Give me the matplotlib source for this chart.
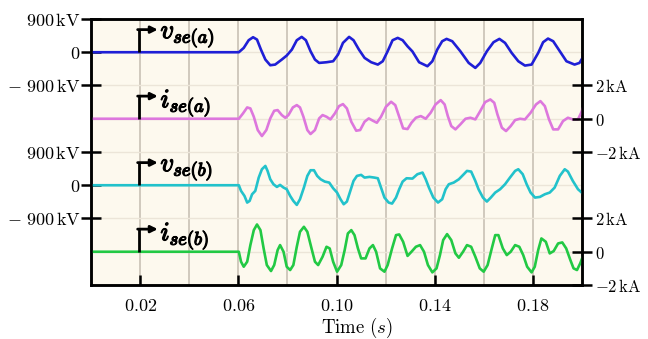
import numpy as np
import matplotlib.pyplot as plt
import matplotlib.patheffects as pe

plt.rcParams['mathtext.fontset'] = 'cm'

# time in ms, voltages in kV, currents in kA
t_va = [0, 60.2, 62.2, 64.2, 66.0, 67.6, 69.2, 71.0, 73.0, 75.0, 77.7, 79.7, 81.8, 83.8, 85.8,
        87.5, 89.4, 91.2, 92.9, 95.9, 98.6, 100.6, 102.6, 105.1, 106.9, 109.1, 111.4, 114.1,
        116.8, 118.8, 120.8, 122.8, 124.9, 126.9, 128.9, 130.9, 133.6, 137.0, 139.0, 141.0,
        143.0, 144.8, 147.1, 150.4, 153.8, 156.5, 158.5, 161.2, 163.9, 166.3, 168.6, 171.3,
        174.0, 176.7, 179.4, 182.1, 184.1, 186.1, 188.2, 190.9, 193.6, 196.9, 198.9, 201.0]
va = [0, 0, 117, 325, 406, 343, 72, -198, -352, -334, -198, -90, 72, 325, 415,
      325, 27, -198, -289, -271, -244, -63, 253, 415, 325, 72, -153, -271,
      -334, -244, 27, 325, 388, 325, 160, 20, -271, -379, -244, 72,
      298, 361, 298, 27, -289, -424, -289, 27, 271, 361, 253, -18,
      -244, -361, -334, -18, 271, 370, 298, 27, -244, -334, -289, -60]

t_ia = [0, 60.2, 61.9, 63.6, 64.9, 66.3, 67.9, 69.6, 71.4, 73.0, 74.6, 76.0, 77.7, 79.1, 80.4,
        82.2, 83.8, 85.1, 86.5, 88.1, 89.4, 91.2, 92.9, 94.3, 95.9, 97.5, 99.3, 101.0, 102.6,
        104.2, 106.0, 108.0, 109.6, 111.4, 113.1, 114.8, 116.4, 118.1, 120.1, 122.2, 123.9,
        125.5, 127.1, 128.9, 130.5, 132.3, 134.3, 136.3, 138.3, 140.3, 142.4, 144.0, 145.3,
        146.7, 148.4, 150.4, 152.5, 154.5, 156.5, 158.5, 160.5, 162.6, 164.2, 165.5, 167.3,
        169.0, 170.9, 172.7, 174.7, 176.7, 179.0, 181.2, 183.0, 184.8, 186.5, 188.2, 190.2,
        192.2, 194.2, 196.2, 198.3, 199.6, 201.0]
ia = [0, 0, 0.32, 0.68, 0.62, 0.12, -0.68, -1.04, -0.68, 0.02, 0.48, 0.52, 0.22, 0.06, 0.22,
      0.68, 0.82, 0.68, 0.12, -0.68, -0.92, -0.68, 0.02, 0.22, 0.12, -0.04, 0.32, 0.76, 0.88,
      0.62, -0.18, -0.72, -0.68, -0.18, 0.02, -0.12, -0.24, 0.12, 0.72, 1.02, 0.82,
      0.12, -0.58, -0.62, -0.24, 0.06, 0.16, 0.0, 0.36, 0.86, 1.12, 0.86, 0.16,
      -0.44, -0.64, -0.34, 0.0, 0.06, -0.04, 0.46, 1.0, 1.16, 0.96, 0.26, -0.54,
      -0.74, -0.44, -0.08, 0.0, -0.04, 0.36, 0.86, 1.06, 0.76, -0.04, -0.64, -0.64,
      -0.14, 0.06, -0.04, -0.04, 0.36, 0.92]

t_vb = [0, 60.2, 61.1, 62.5, 63.6, 64.6, 65.6, 66.9, 68.3, 69.6, 71.0, 71.9, 73.0, 74.3, 75.7,
        77.0, 78.4, 79.7, 81.1, 82.4, 83.8, 85.1, 86.7, 88.1, 89.4, 90.8, 92.1, 93.5, 95.2,
        97.0, 98.6, 100.2, 101.6, 102.9, 104.2, 105.6, 106.9, 108.3, 110.0, 111.4, 113.4,
        115.4, 116.8, 118.1, 119.5, 121.2, 122.6, 124.2, 125.5, 126.9, 128.5, 130.9, 132.9,
        135.0, 136.3, 137.6, 139.4, 141.3, 143.0, 144.4, 145.7, 147.7, 149.8, 151.8, 153.1,
        154.8, 156.5, 157.8, 159.6, 161.2, 162.8, 164.6, 166.6, 168.6, 170.6, 172.7, 174.0,
        175.8, 177.4, 179.0, 180.8, 182.8, 184.8, 186.8, 188.8, 190.9, 192.9, 194.2, 196.2,
        198.3, 200.3]
vb = [0, 0, -153, -289, -469, -424, -244, -153, 207, 433, 523, 388, 162, 27, -45,
      9, -63, -108, -289, -424, -532, -379, -63, 253, 406, 406, 253, 162, 99,
      72, -81, -198, -379, -514, -442, -153, 117, 253, 280, 207, 226,
      207, 189, -63, -334, -469, -496, -334, -108, 99, 189, 180, 298,
      343, 162, -63, -334, -469, -379, -108, 27, 72, 162, 298, 388,
      370, 117, -108, -334, -442, -334, -198, -108, 27, 207, 388, 433,
      298, 27, -198, -334, -316, -244, -198, -63, 253, 433, 370, 117,
      -108, -226]

t_ib = [0, 60.2, 61.1, 62.2, 63.6, 64.9, 66.3, 67.6, 69.0, 70.3, 71.6, 73.3, 74.6, 76.0, 77.0,
        78.4, 79.7, 81.1, 82.4, 83.8, 85.1, 86.7, 88.1, 89.8, 91.2, 92.5, 94.3, 95.9, 97.2,
        98.6, 100.2, 101.9, 103.3, 104.6, 106.0, 107.3, 108.7, 110.0, 111.8, 113.4, 114.8,
        116.1, 117.7, 119.5, 120.8, 122.6, 124.2, 125.5, 127.1, 128.9, 130.5, 132.3, 134.0,
        135.6, 137.2, 139.0, 140.7, 142.1, 143.4, 145.0, 146.7, 148.4, 149.8, 151.5, 153.1,
        154.8, 156.5, 158.3, 159.9, 161.5, 163.2, 164.6, 165.9, 167.7, 169.3, 170.9, 172.7,
        174.4, 176.0, 177.6, 179.4, 180.7, 182.1, 183.4, 185.2, 186.8, 188.4, 190.2, 191.9,
        193.5, 195.2, 196.5, 197.9, 199.2, 200.5]
ib = [0, 0, -0.60, -0.90, -0.60, 0.40, 1.30, 1.64, 1.30, 0.20, -0.80, -1.16, -0.80, 0.10, 0.40,
      0.0, -0.90, -1.10, -0.80, 0.30, 1.20, 1.50, 1.20, 0.20, -0.60, -0.80, -0.30, 0.30, 0.20,
      -0.60, -1.20, -0.80, 0.10, 1.10, 1.30, 1.00, 0.20, -0.40, -0.40, 0.20, 0.40,
      0.0, -1.00, -1.20, -0.80, 0.20, 1.00, 1.04, 0.60, -0.25, 0.0, 0.30, 0.40,
      0.0, -0.80, -1.24, -1.00, -0.20, 0.70, 1.06, 0.70, -0.10, -0.36, 0.0, 0.40,
      0.30, -0.30, -1.00, -1.20, -0.80, 0.20, 1.00, 1.00, 0.20, -0.20, 0.0, 0.40,
      0.30, -0.20, -0.90, -1.24, -0.90, 0.10, 0.80, 0.60, -0.10, 0.04, 0.50, 0.56,
      0.20, -0.50, -1.00, -1.10, -0.70, -0.20]

x_ticks = [0.02, 0.06, 0.10, 0.14, 0.18]
x_ticklabels = ['0.02', '0.06', '0.10', '0.14', '0.18']

V_SCALE = 900.0   # kV per band unit
I_SCALE = 2.0     # kA per band unit

traces = [
    (t_va, va, V_SCALE, 7, '#1f1fd6', r'v_{se(a)}'),
    (t_ia, ia, I_SCALE, 5, '#dd77dd', r'i_{se(a)}'),
    (t_vb, vb, V_SCALE, 3, '#22c2cb', r'v_{se(b)}'),
    (t_ib, ib, I_SCALE, 1, '#22c944', r'i_{se(b)}'),
]

fig = plt.figure(figsize=(6.48, 3.39), dpi=100)
ax = fig.add_axes([0.1404, 0.1593, 0.7580, 0.7847])
ax.set_facecolor('#fdf9ee')

for t, y, scale, off, col, lab in traces:
    tt = np.array(t) / 1000.0
    yy = off + np.array(y) / scale
    ax.plot(tt, yy, color=col, lw=1.9, zorder=3)
    # arrow marker with the trace name
    ax.plot([0.0195, 0.0195], [off, off + 0.68], color='black', lw=2.0, zorder=4,
            solid_capstyle='butt')
    ax.annotate('', xy=(0.0272, off + 0.68), xytext=(0.0190, off + 0.68),
                arrowprops=dict(arrowstyle='-|>', color='black', lw=2.0,
                                mutation_scale=10, shrinkA=0, shrinkB=0), zorder=4)
    txt = ax.text(0.0283, off + 0.47, '$' + lab + '$', fontsize=19, ha='left', va='center',
                  zorder=5)
    txt.set_path_effects([pe.withStroke(linewidth=0.9, foreground='black')])

ax.set_xlim(0, 0.2)
ax.set_ylim(0, 8)

# grid
for xv in np.arange(0.02, 0.19, 0.02):
    ax.axvline(xv, color='#c9c1b5', lw=1.2, zorder=1)
for yv in range(1, 8):
    ax.axhline(yv, color='#ece5d8', lw=1.0, zorder=1)

ax.set_xticks(x_ticks)
ax.set_xticklabels(['$' + s + '$' for s in x_ticklabels], fontsize=13)
ax.tick_params(axis='x', direction='in', length=7, width=1.8, pad=9)

ax.set_yticks([8, 7, 6, 4, 3, 2])
ax.set_yticklabels([r'$900\,\mathrm{kV}$', '$0$', r'$\mathbf{-}\ 900\,\mathrm{kV}$',
                    r'$900\,\mathrm{kV}$', '$0$', r'$\mathbf{-}\ 900\,\mathrm{kV}$'], fontsize=13)
ax.tick_params(axis='y', direction='inout', length=15, width=1.8, pad=0)

ax2 = ax.twinx()
ax2.set_ylim(0, 8)
ax2.set_yticks([6, 5, 4, 2, 1, 0])
ax2.set_yticklabels([r'$2\,\mathrm{kA}$', '$0$', r'$-2\,\mathrm{kA}$',
                     r'$2\,\mathrm{kA}$', '$0$', r'$-2\,\mathrm{kA}$'], fontsize=12)
ax2.tick_params(axis='y', direction='inout', length=15, width=1.8, pad=2)

for a in (ax, ax2):
    for s in a.spines.values():
        s.set_linewidth(1.8)

ax.set_xlabel(r'$\mathrm{Time}\ (s)$', fontsize=13.5)
ax.xaxis.set_label_coords(0.542, -0.117)

fig.savefig('out.png', dpi=100)
